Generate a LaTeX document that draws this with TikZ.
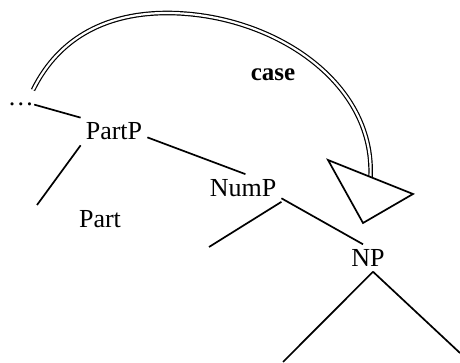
\documentclass[tikz,border=0pt]{standalone}
\usepackage{fontspec}
\setmainfont{Liberation Serif}

\begin{document}
\begin{tikzpicture}[x=1pt,y=-1pt,
  cat/.style={inner sep=5pt,font=\fontsize{26}{31}\selectfont},
  branch/.style={line width=1.7pt}]
  \useasboundingbox (0,0) rectangle (460,363);
  \node[cat,inner sep=0pt] (dots) at (21,104.6) {…};
  \node[cat] (partp) at (114,131.5) {PartP};
  \node[cat] (part) at (100,219) {Part};
  \node[cat] (nump) at (243,188) {NumP};
  \node[cat] (np) at (368,258) {NP};
  \node[cat,font=\fontsize{25}{30}\selectfont\bfseries] (case) at (273,75) {case};
  \coordinate (partleaf) at (37,205);
  \coordinate (numpleaf) at (209,247);
  \coordinate (npleft) at (283,362);
  \coordinate (npright) at (460,353);
  \coordinate (arcstart) at (33,90);
  \coordinate (arctop) at (167,13);
  \coordinate (headbase) at (370.5,177);
  % tree
  \draw[branch] (dots.east) -- (partp.north west);
  \draw[branch] (partp.-10) -- (nump.80);
  \draw[branch] (partp.south west) -- (partleaf);
  \draw[branch] (nump.south east) -- (numpleaf);
  \draw[branch] (nump.-15) -- (np.110);
  \draw[branch] (np.-70) -- (npleft);
  \draw[branch] (np.-70) -- (npright);
  % case movement
  \draw[double=white,double distance=2.2pt,line width=1.2pt]
    (arcstart) .. controls (60,35) and (110,13) .. (arctop)
    .. controls (270,13) and (375,80) .. (headbase);
  \draw[branch,line join=miter] (328,160) -- (413,194) -- (363,223) -- cycle;
\end{tikzpicture}
\end{document}
